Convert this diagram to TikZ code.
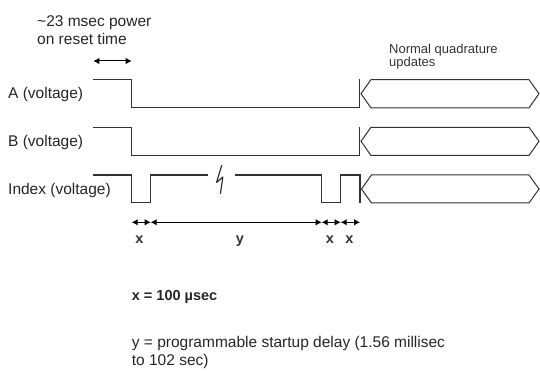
\documentclass[tikz,border=0pt]{standalone}
\usepackage{fontspec}
\setmainfont{Liberation Sans}
\usetikzlibrary{arrows.meta}
\begin{document}
\begin{tikzpicture}[x=1pt,y=-1pt,
  wave/.style={line width=1.2pt,draw=black!80,line join=miter},
  hexa/.style={line width=1pt,draw=black!80},
  dim/.style={line width=1pt,draw=black,{Latex[length=6pt,width=6.5pt]}-{Latex[length=6pt,width=6.5pt]}},
  lbl/.style={anchor=base west,inner sep=0pt,font=\fontsize{15.5}{17.8}\selectfont,text=black!85},
  small/.style={anchor=base west,inner sep=0pt,align=left,font=\fontsize{13}{13.6}\selectfont,text=black!80},
  tick/.style={anchor=base,inner sep=0pt,font=\fontsize{14.5}{17}\selectfont\bfseries,text=black!80}
  ]
\useasboundingbox (0,0) rectangle (540,371);
% texts (base anchor = baseline of the last line)
\node[lbl,align=left] (reset) at (37,44.3) {\textasciitilde 23 msec power\\on reset time};
\node[small] (normal) at (389,66.9) {Normal quadrature\\updates};
\node[lbl] (la) at (8,99) {A (voltage)};
\node[lbl] (lb) at (8,146.8) {B (voltage)};
\node[lbl] (li) at (8,194.5) {Index (voltage)};
% reset-time arrow
\coordinate (r1) at (93.3,61);
\coordinate (r2) at (131.7,61);
\draw[dim] (r1) -- (r2);
% A
\draw[wave] (93,79.5) -- (131.7,79.5) -- (131.7,107.7) -- (359.5,107.7);
\draw[wave] (359.5,79) -- (359.5,108.3);
\draw[hexa] (361,93.7) -- (371,79.7) -- (529,79.7) -- (539,93.7) -- (529,107.9) -- (371,107.9) -- cycle;
% B
\draw[wave] (93,127.3) -- (131.7,127.3) -- (131.7,155.3) -- (359.5,155.3);
\draw[wave] (359.5,126.8) -- (359.5,155.9);
\draw[hexa] (361,141.3) -- (371,127.3) -- (529,127.3) -- (539,141.3) -- (529,155.5) -- (371,155.5) -- cycle;
% Index
\draw[wave] (93,175) -- (131.7,175) -- (131.7,202.8) -- (150.7,202.8) -- (150.7,175) -- (207.5,175);
\draw[wave] (235,175) -- (321.7,175) -- (321.7,202.8) -- (340.7,202.8) -- (340.7,175) -- (360,175);
\draw[wave] (360,174.5) -- (360,203.5);
\draw[hexa] (361.5,189) -- (371.5,175) -- (529,175) -- (539,189) -- (529,203) -- (371.5,203) -- cycle;
% break symbol
\draw[line width=1.2pt,draw=black!80,line join=round,line cap=round]
  (221.7,165.5) -- (216.5,182.5) -- (222.8,177) -- (220.5,193.5);
% dimension arrows
\coordinate (d0) at (131.7,222.3);
\coordinate (d1) at (150.7,222.3);
\coordinate (d2) at (321.7,222.3);
\coordinate (d3) at (340.7,222.3);
\coordinate (d4) at (360,222.3);
\draw[dim] (d0) -- (d1);
\draw[dim] (d1) -- (d2);
\draw[dim] (d2) -- (d3);
\draw[dim] (d3) -- (d4);
\node[tick] (tx1) at (139.5,243.5) {x};
\node[tick] (ty) at (240,243.5) {y};
\node[tick] (tx2) at (330,243.5) {x};
\node[tick] (tx3) at (349.5,243.5) {x};
% legend
\node[lbl,font=\fontsize{14.5}{17}\selectfont\bfseries] (xdef) at (131.7,300.7) {x = 100 µsec};
\node[lbl,align=left] (ydef) at (131.7,365) {y = programmable startup delay (1.56 millisec\\to 102 sec)};
\end{tikzpicture}
\end{document}
